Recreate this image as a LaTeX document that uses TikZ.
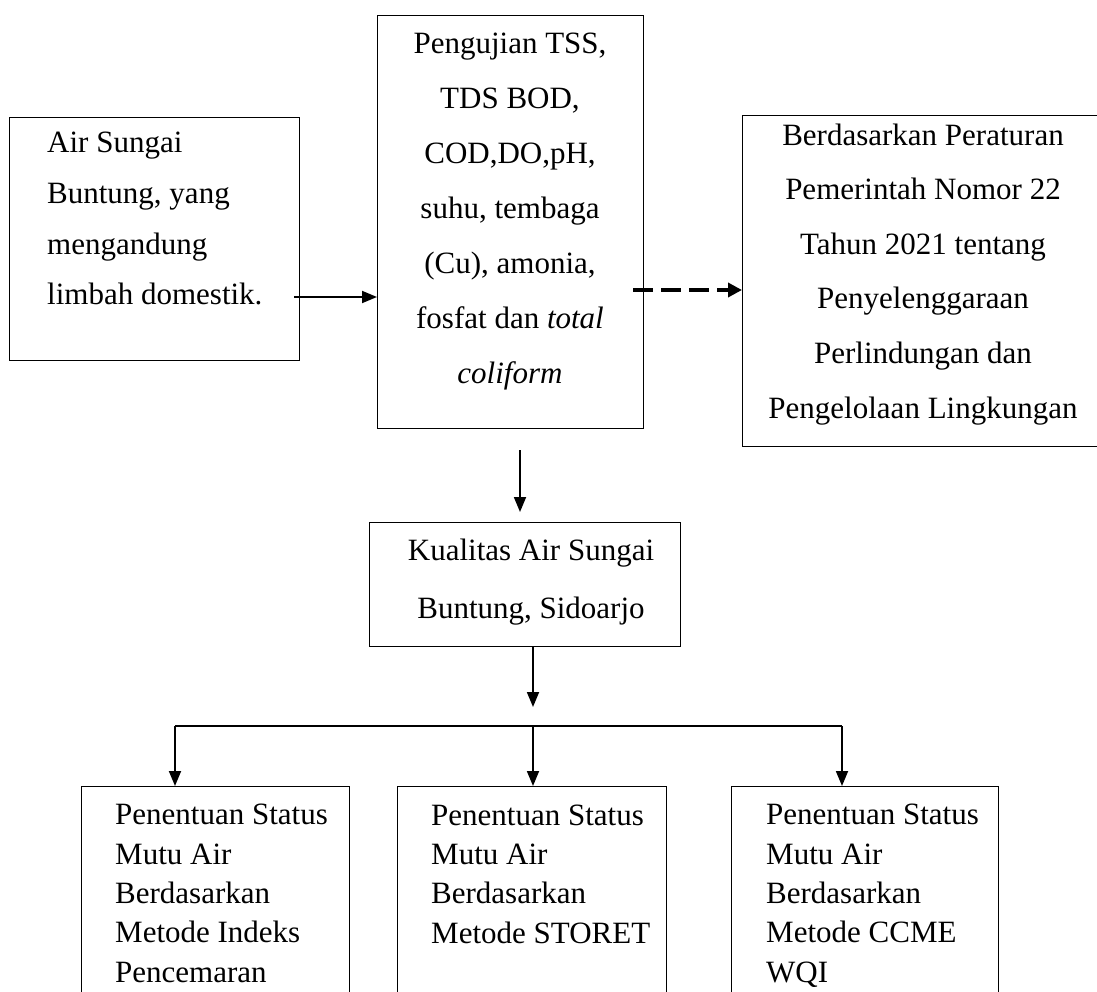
\documentclass[tikz,border=0pt]{standalone}
\usepackage{fontspec}
\setmainfont{Liberation Serif}
\usetikzlibrary{arrows.meta}

\tikzset{
  kotak/.style={draw,line width=1.3pt,inner sep=0pt,anchor=north west},
  teks/.style={inner sep=0pt,font=\fontsize{31}{55}\selectfont},
  panah/.style={line width=1.8pt,-{Triangle[length=15pt,width=12pt]}},
}

\begin{document}
\begin{tikzpicture}[x=1pt,y=-1pt]
    \useasboundingbox (0,0) rectangle (1097,992);
    % kotak
    \node[kotak,minimum width=290pt,minimum height=243pt] (air) at (9,117) {};
    \node[kotak,minimum width=266pt,minimum height=413pt] (uji) at (377,15) {};
    \node[kotak,minimum width=362pt,minimum height=331pt] (pp) at (742,115) {};
    \node[kotak,minimum width=311pt,minimum height=124pt] (kualitas) at (369,522) {};
    \node[kotak,minimum width=268pt,minimum height=225pt] (ip) at (81,786) {};
    \node[kotak,minimum width=269pt,minimum height=225pt] (storet) at (397,786) {};
    \node[kotak,minimum width=267pt,minimum height=225pt] (ccme) at (731,786) {};
    % teks (anchor base = baris terakhir)
    \node[teks,font=\fontsize{31}{50.7}\selectfont,align=left,anchor=base west] (airtxt) at (47,305)
        {Air Sungai\\Buntung, yang\\mengandung\\limbah domestik.};
    \node[teks,align=center,anchor=base] (ujitxt) at (510,383)
        {Pengujian TSS,\\TDS BOD,\\COD,DO,pH,\\suhu, tembaga\\(Cu), amonia,\\fosfat dan \textit{total}\\\textit{coliform}};
    \node[teks,font=\fontsize{31}{54.6}\selectfont,align=center,anchor=base] (pptxt) at (923,418)
        {Berdasarkan Peraturan\\Pemerintah Nomor 22\\Tahun 2021 tentang\\Penyelenggaraan\\Perlindungan dan\\Pengelolaan Lingkungan};
    \node[teks,font=\fontsize{31}{58}\selectfont,align=center,anchor=base] (kualitastxt) at (531,618)
        {Kualitas Air Sungai\\Buntung, Sidoarjo};
    \node[teks,font=\fontsize{31}{39.3}\selectfont,align=left,anchor=base west] (iptxt) at (115,982)
        {Penentuan Status\\Mutu Air\\Berdasarkan\\Metode Indeks\\Pencemaran};
    \node[teks,font=\fontsize{31}{39.3}\selectfont,align=left,anchor=base west] (storettxt) at (431,943)
        {Penentuan Status\\Mutu Air\\Berdasarkan\\Metode STORET};
    \node[teks,font=\fontsize{31}{39.3}\selectfont,align=left,anchor=base west] (ccmetxt) at (766,982)
        {Penentuan Status\\Mutu Air\\Berdasarkan\\Metode CCME\\WQI};
    % panah
    \coordinate (a1) at (294,297);
    \draw[panah] (a1) -- (a1 -| uji.west);
    \coordinate (b1) at (633,290);
    \draw[line width=3.8pt,dash pattern=on 20pt off 8pt,-{Triangle[length=14pt,width=14pt]}] (b1) -- (b1 -| pp.west);
    \coordinate (c1) at (520,450);
    \coordinate (c2) at (520,512);
    \draw[panah] (c1) -- (c2);
    \coordinate (d1) at (533,707);
    \draw[panah] (kualitas.south -| d1) -- (d1);
    % cabang
    \coordinate (cabkiri) at (175,726);
    \coordinate (cabtengah) at (533,726);
    \coordinate (cabkanan) at (842,726);
    \draw[line width=1.6pt] (cabkiri) -- (cabkanan);
    \draw[panah] (cabkiri) -- (cabkiri |- ip.north);
    \draw[panah] (cabtengah) -- (cabtengah |- storet.north);
    \draw[panah] (cabkanan) -- (cabkanan |- ccme.north);
\end{tikzpicture}
\end{document}
